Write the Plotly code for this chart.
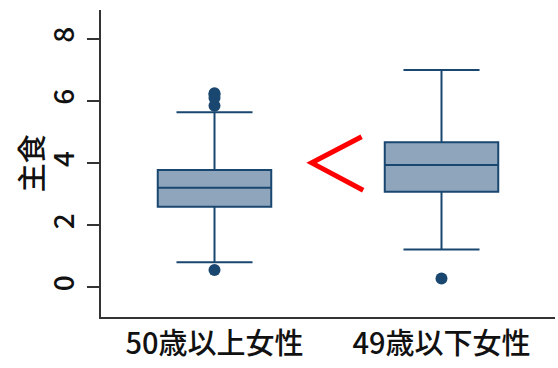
import plotly.graph_objects as go

# Groups and their box statistics (主食 score)
groups = ["50歳以上女性", "49歳以下女性"]
q1 = [2.60, 3.08]
median = [3.21, 3.94]
q3 = [3.78, 4.67]
lower_fence = [0.81, 1.22]
upper_fence = [5.64, 7.00]

# Outlying observations per group
outlier_groups = ["50歳以上女性"] * 5 + ["49歳以下女性"]
outlier_values = [6.25, 6.2, 6.1, 5.85, 0.56, 0.29]

y_ticks = [0, 2, 4, 6, 8]
y_title = "主食"

navy = "#1a476f"
box_fill = "#8ea5bc"
axis_col = "#333333"
font_family = "Noto Sans CJK JP, Noto Sans, sans-serif"

fig = go.Figure()

fig.add_trace(go.Box(
    x=groups,
    q1=q1,
    median=median,
    q3=q3,
    lowerfence=lower_fence,
    upperfence=upper_fence,
    width=0.5,
    fillcolor=box_fill,
    line=dict(color=navy, width=2),
    whiskerwidth=0.67,
    boxpoints=False,
    showlegend=False,
    hoverinfo="skip",
))

fig.add_trace(go.Scatter(
    x=outlier_groups,
    y=outlier_values,
    mode="markers",
    marker=dict(color=navy, size=12, symbol="circle"),
    showlegend=False,
    hoverinfo="skip",
))

# Red "<" comparison sign between the two boxes
fig.add_shape(
    type="path",
    path="M 0.648 4.85 L 0.428 4.01 L 0.655 3.13",
    xref="x", yref="y",
    line=dict(color="#ff0000", width=5),
)

# Vertical axis title placed just left of the tick labels
fig.add_annotation(
    text=y_title,
    xref="paper", yref="paper",
    x=-0.157, y=0.5,
    xanchor="center", yanchor="middle",
    textangle=-90,
    showarrow=False,
    font=dict(size=29, family=font_family, color="#111111", weight=500),
)

fig.update_layout(
    width=558,
    height=368,
    margin=dict(l=101, r=3, t=10, b=51),
    plot_bgcolor="white",
    paper_bgcolor="white",
    font=dict(family=font_family, color="black"),
)

fig.update_xaxes(
    type="category",
    categoryorder="array",
    categoryarray=groups,
    range=[-0.5, 1.5],
    automargin=False,
    showline=True,
    linecolor=axis_col,
    linewidth=2,
    ticks="",
    showgrid=False,
    zeroline=False,
    tickfont=dict(size=29, family=font_family, color="#111111", weight=500),
    ticklabelstandoff=0,
)

fig.update_yaxes(
    range=[-0.95, 8.93],
    automargin=False,
    tickvals=y_ticks,
    ticktext=[str(v) for v in y_ticks],
    tickangle=-90,
    showline=True,
    linecolor=axis_col,
    linewidth=2,
    ticks="outside",
    ticklen=12,
    tickwidth=2,
    tickcolor=axis_col,
    showgrid=False,
    zeroline=False,
    tickfont=dict(size=28, family=font_family, color="#111111", weight=500),
    ticklabelstandoff=2,
)

fig.write_html("out.html")
